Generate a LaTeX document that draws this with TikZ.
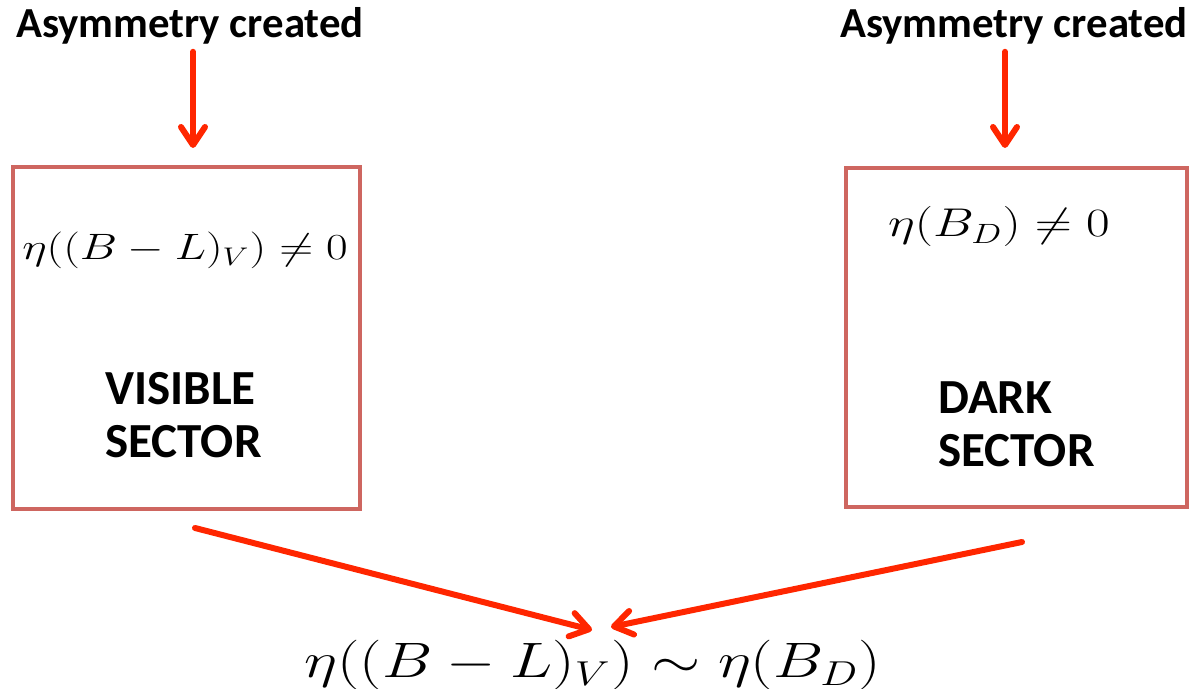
\documentclass[tikz,border=0pt]{standalone}
\usepackage{graphicx}
\usepackage{fontspec}
\newfontfamily\calfont{Carlito}
\usetikzlibrary{arrows.meta,positioning}
\definecolor{boxred}{RGB}{206,102,96}
\definecolor{arrred}{RGB}{255,38,0}
% math set at 20.74pt, then scaled (x, y)
\newcommand{\widemath}[3]{\scalebox{#1}[#2]{$#3$}}

\begin{document}
\begin{tikzpicture}[x=0.5pt,y=-0.5pt,
    sectorbox/.style={draw=boxred,line width=2pt,inner sep=0pt},
    title/.style={font=\calfont\bfseries\fontsize{21.4}{24}\selectfont},
    sectorname/.style={font=\calfont\bfseries\fontsize{24.5}{26.8}\selectfont,align=left,inner sep=0pt},
    mathtext/.style={font=\fontsize{20.74}{25}\selectfont,inner sep=0pt},
    redarrow/.style={draw=arrred,line width=3pt,line cap=round,-{Straight Barb[length=9pt,width=12pt,round]}}]
  \useasboundingbox (0,0) rectangle (1190,689);
  % the two sectors
  \node[sectorbox,minimum width=173.5pt,minimum height=170.75pt] (vis) at (186,338) {};
  \node[sectorbox,minimum width=170.5pt,minimum height=169.5pt] (dark) at (1016.5,337.5) {};
  \node[title,anchor=base] (asymV) at (190,38) {Asymmetry created};
  \node[title,anchor=base] (asymD) at (1014,38) {Asymmetry created};
  \node[mathtext,anchor=base] (etaV) at (185,260) {\widemath{1.133}{0.885}{\eta((B-L)_V)\neq 0}};
  \node[mathtext,anchor=base] (etaD) at (999,237) {\widemath{1.239}{0.968}{\eta(B_D)\neq 0}};
  \node[sectorname,anchor=base west] (visname) at (105,458) {VISIBLE\\SECTOR};
  \node[sectorname,anchor=base west] (darkname) at (938,467) {DARK\\SECTOR};
  % the relation below
  \node[mathtext,anchor=base] (res) at (593,678) {\widemath{1.528}{1.2}{\eta((B-L)_V)\sim\eta(B_D)}};
  % arrows
  \coordinate (inV) at (193,148);
  \coordinate (inD) at (1005,148);
  \draw[redarrow] (asymV.south -| inV) -- (inV);
  \draw[redarrow] (asymD.south -| inD) -- (inD);
  \coordinate (fromV) at (195,528);
  \coordinate (toV) at (592,630);
  \coordinate (fromD) at (1022,542);
  \coordinate (toD) at (611,627);
  \draw[redarrow] (fromV) -- (toV);
  \draw[redarrow] (fromD) -- (toD);
\end{tikzpicture}
\end{document}
